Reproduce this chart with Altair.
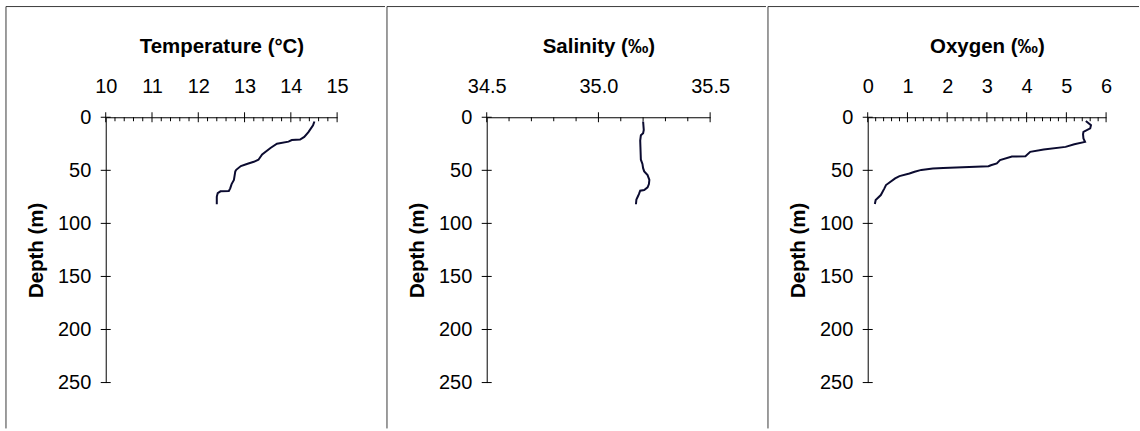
import altair as alt
import pandas as pd

# ---- data ----
temp_depth = [4, 7.5, 14, 18.5, 21, 21.5, 23, 25, 29, 35, 40, 42, 44, 46, 49.5, 51, 59, 63, 67, 69.5, 69.8, 71.5, 75, 82]
temp_value = [14.51, 14.48, 14.38, 14.29, 14.20, 14.02, 13.95, 13.70, 13.56, 13.38, 13.30, 13.20, 13.05, 12.92,
              12.82, 12.80, 12.77, 12.72, 12.69, 12.66, 12.48, 12.42, 12.40, 12.40]

sal_depth = [4, 12, 15, 17, 22, 28, 40, 44, 48, 51, 54.5, 59, 63, 66, 68.5, 69.2, 72, 74, 77.5, 82]
sal_value = [35.200, 35.203, 35.200, 35.190, 35.187, 35.188, 35.190, 35.197, 35.200, 35.205, 35.220, 35.228,
             35.226, 35.220, 35.205, 35.187, 35.182, 35.178, 35.170, 35.168]

oxy_depth = [3.5, 7.5, 10.5, 13.8, 16, 20, 23.2, 25.4, 27.9, 30.4, 32.6, 36.7, 37.0, 40.4, 43.5, 45.2, 46.2,
             47.8, 48.3, 49.6, 51.4, 53, 55.5, 57.6, 63.9, 67, 73.3, 78, 81.8]
oxy_value = [5.49, 5.62, 5.60, 5.43, 5.42, 5.43, 5.47, 5.20, 4.98, 4.43, 4.09, 3.97, 3.63, 3.33, 3.25, 3.10, 3.04,
             1.90, 1.64, 1.35, 1.18, 1.05, 0.80, 0.69, 0.46, 0.42, 0.33, 0.20, 0.18]

depth_ticks = [0, 50, 100, 150, 200, 250]
temp_ticks = [10, 11, 12, 13, 14, 15]
temp_minor = [10.2, 10.4, 10.6, 10.8, 11.2, 11.4, 11.6, 11.8, 12.2, 12.4, 12.6, 12.8,
              13.2, 13.4, 13.6, 13.8, 14.2, 14.4, 14.6, 14.8]
sal_ticks = [34.5, 35.0, 35.5]
sal_minor = [34.6, 34.7, 34.8, 34.9, 35.1, 35.2, 35.3, 35.4]
oxy_ticks = [0, 1, 2, 3, 4, 5, 6]
oxy_minor = [0.2, 0.4, 0.6, 0.8, 1.2, 1.4, 1.6, 1.8, 2.2, 2.4, 2.6, 2.8, 3.2, 3.4, 3.6, 3.8,
             4.2, 4.4, 4.6, 4.8, 5.2, 5.4, 5.6, 5.8]

FONT = "Liberation Sans"
LINE = "#0b0b30"
BORDER = "#3a3a3a"
H = 266
LBL = 20
TTL = 20.5


def panel(depth, values, domain, ticks, minor, fmt, title, width, right):
    df = pd.DataFrame({"depth": depth, "v": values})
    xs = alt.Scale(domain=domain, nice=False, zero=False)
    ys = alt.Scale(domain=[0, 250], reverse=True, nice=False, zero=False)
    xaxis = alt.Axis(orient="top", values=ticks, format=fmt, ticks=False, grid=False,
                     domainColor="black", domainWidth=1, labelFont=FONT, labelFontSize=LBL,
                     labelColor="black", labelPadding=21, labelFlush=False, labelOverlap=False,
                     title=title, titleFont=FONT, titleFontSize=TTL, titleFontWeight="bold",
                     titleColor="black", titleX=width / 2, titleY=-64.5, titleBaseline="alphabetic",
                     titleAlign="center")
    yaxis = alt.Axis(values=depth_ticks, ticks=False, grid=False, domainColor="black", domainWidth=1,
                     labelFont=FONT, labelFontSize=LBL, labelColor="black", labelPadding=15,
                     labelFlush=False, labelOverlap=False,
                     title="Depth (m)", titleFont=FONT, titleFontSize=TTL, titleFontWeight="bold",
                     titleColor="black", titleAngle=270, titleX=-63.5, titleY=H / 2,
                     titleBaseline="alphabetic", titleAlign="center")

    one = pd.DataFrame({"a": [0]})
    top_border = alt.Chart(one).mark_rule(color=BORDER, strokeWidth=1).encode(
        x=alt.value(-100), x2=alt.value(right), y=alt.value(-111))
    left_border = alt.Chart(one).mark_rule(color=BORDER, strokeWidth=1).encode(
        x=alt.value(-100), y=alt.value(-111), y2=alt.value(312))

    xmajor = alt.Chart(pd.DataFrame({"v": ticks})).mark_rule(color="black", strokeWidth=1).encode(
        x=alt.X("v:Q", scale=xs, axis=xaxis), y=alt.value(-5), y2=alt.value(5))
    xminor = alt.Chart(pd.DataFrame({"v": minor})).mark_rule(color="black", strokeWidth=1).encode(
        x=alt.X("v:Q", scale=xs, axis=xaxis), y=alt.value(0), y2=alt.value(4))
    ymajor = alt.Chart(pd.DataFrame({"depth": depth_ticks})).mark_rule(color="black", strokeWidth=1).encode(
        y=alt.Y("depth:Q", scale=ys, axis=yaxis), x=alt.value(-5), x2=alt.value(5))

    line = alt.Chart(df).mark_line(color=LINE, strokeWidth=2).encode(
        x=alt.X("v:Q", scale=xs, axis=xaxis),
        y=alt.Y("depth:Q", scale=ys, axis=yaxis),
        order=alt.Order("depth:Q"))

    return alt.layer(top_border, left_border, xmajor, xminor, ymajor, line).properties(width=width, height=H)


p1 = panel(temp_depth, temp_value, [10, 15], temp_ticks, temp_minor, "d", "Temperature (°C)", 232, 280)
p2 = panel(sal_depth, sal_value, [34.5, 35.5], sal_ticks, sal_minor, ".1f", "Salinity (‰)", 224, 280)
p3 = panel(oxy_depth, oxy_value, [0, 6], oxy_ticks, oxy_minor, "d", "Oxygen (‰)", 239, 272)

chart = alt.hconcat(p1, p2, p3, spacing=0).properties(
    padding={"left": 5, "top": 5, "right": 0, "bottom": 0},
    background="white",
).configure_view(stroke="transparent")

chart.save("out.html", embed_options={"renderer": "svg", "actions": False})
